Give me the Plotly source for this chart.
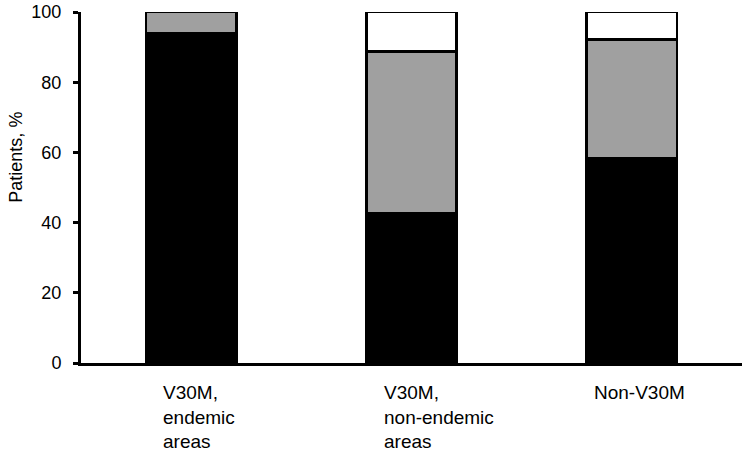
import plotly.graph_objects as go

categories = ["V30M,<br>endemic<br>areas", "V30M,<br>non-endemic<br>areas", "Non-V30M"]
black_vals = [94, 42.7, 58.4]
gray_vals = [6, 46, 33.8]
white_vals = [0, 11.3, 7.8]
y_ticks = [0, 20, 40, 60, 80, 100]
y_title = "Patients, %"
label_shift = [-30, -30, -40]

x_idx = list(range(len(categories)))
FONT = "Liberation Sans, Arial"

fig = go.Figure()
for vals, col in [(black_vals, "#000000"), (gray_vals, "#a0a0a0"), (white_vals, "#ffffff")]:
    fig.add_trace(go.Bar(
        x=x_idx, y=vals, width=0.41,
        marker=dict(color=col, line=dict(color="#000000", width=2.8)),
        showlegend=False, hoverinfo="skip",
    ))

for i, (lab, sh) in enumerate(zip(categories, label_shift)):
    fig.add_annotation(
        x=i, xref="x", y=0, yref="paper", yanchor="top", xanchor="left",
        xshift=sh, yshift=-17, text=lab, align="left", showarrow=False,
        font=dict(family=FONT, size=19, color="#000000"),
    )

fig.add_annotation(
    x=0, xref="paper", y=0.585, yref="paper", xanchor="center", yanchor="middle",
    xshift=-65, text=y_title, textangle=-90, showarrow=False,
    font=dict(family=FONT, size=18, color="#000000"),
)

fig.update_layout(
    barmode="stack",
    width=744, height=452,
    margin=dict(l=81, r=2, t=10, b=89),
    plot_bgcolor="white", paper_bgcolor="white",
    font=dict(family=FONT, size=18, color="#000000"),
)
fig.update_xaxes(
    range=[-0.5, 2.5], showticklabels=False, ticks="", showgrid=False,
    showline=True, linecolor="#000000", linewidth=3, zeroline=False,
)
fig.update_yaxes(
    range=[0, 100], tickvals=y_ticks, ticks="outside", ticklen=5, tickwidth=3,
    tickcolor="#000000", showgrid=False, showline=True, linecolor="#000000",
    linewidth=3, zeroline=False, ticklabelstandoff=8,
    tickfont=dict(family=FONT, size=18, color="#000000"),
)

fig.write_html("out.html", config={"displayModeBar": False},
               post_script="document.body.style.margin='0';")
